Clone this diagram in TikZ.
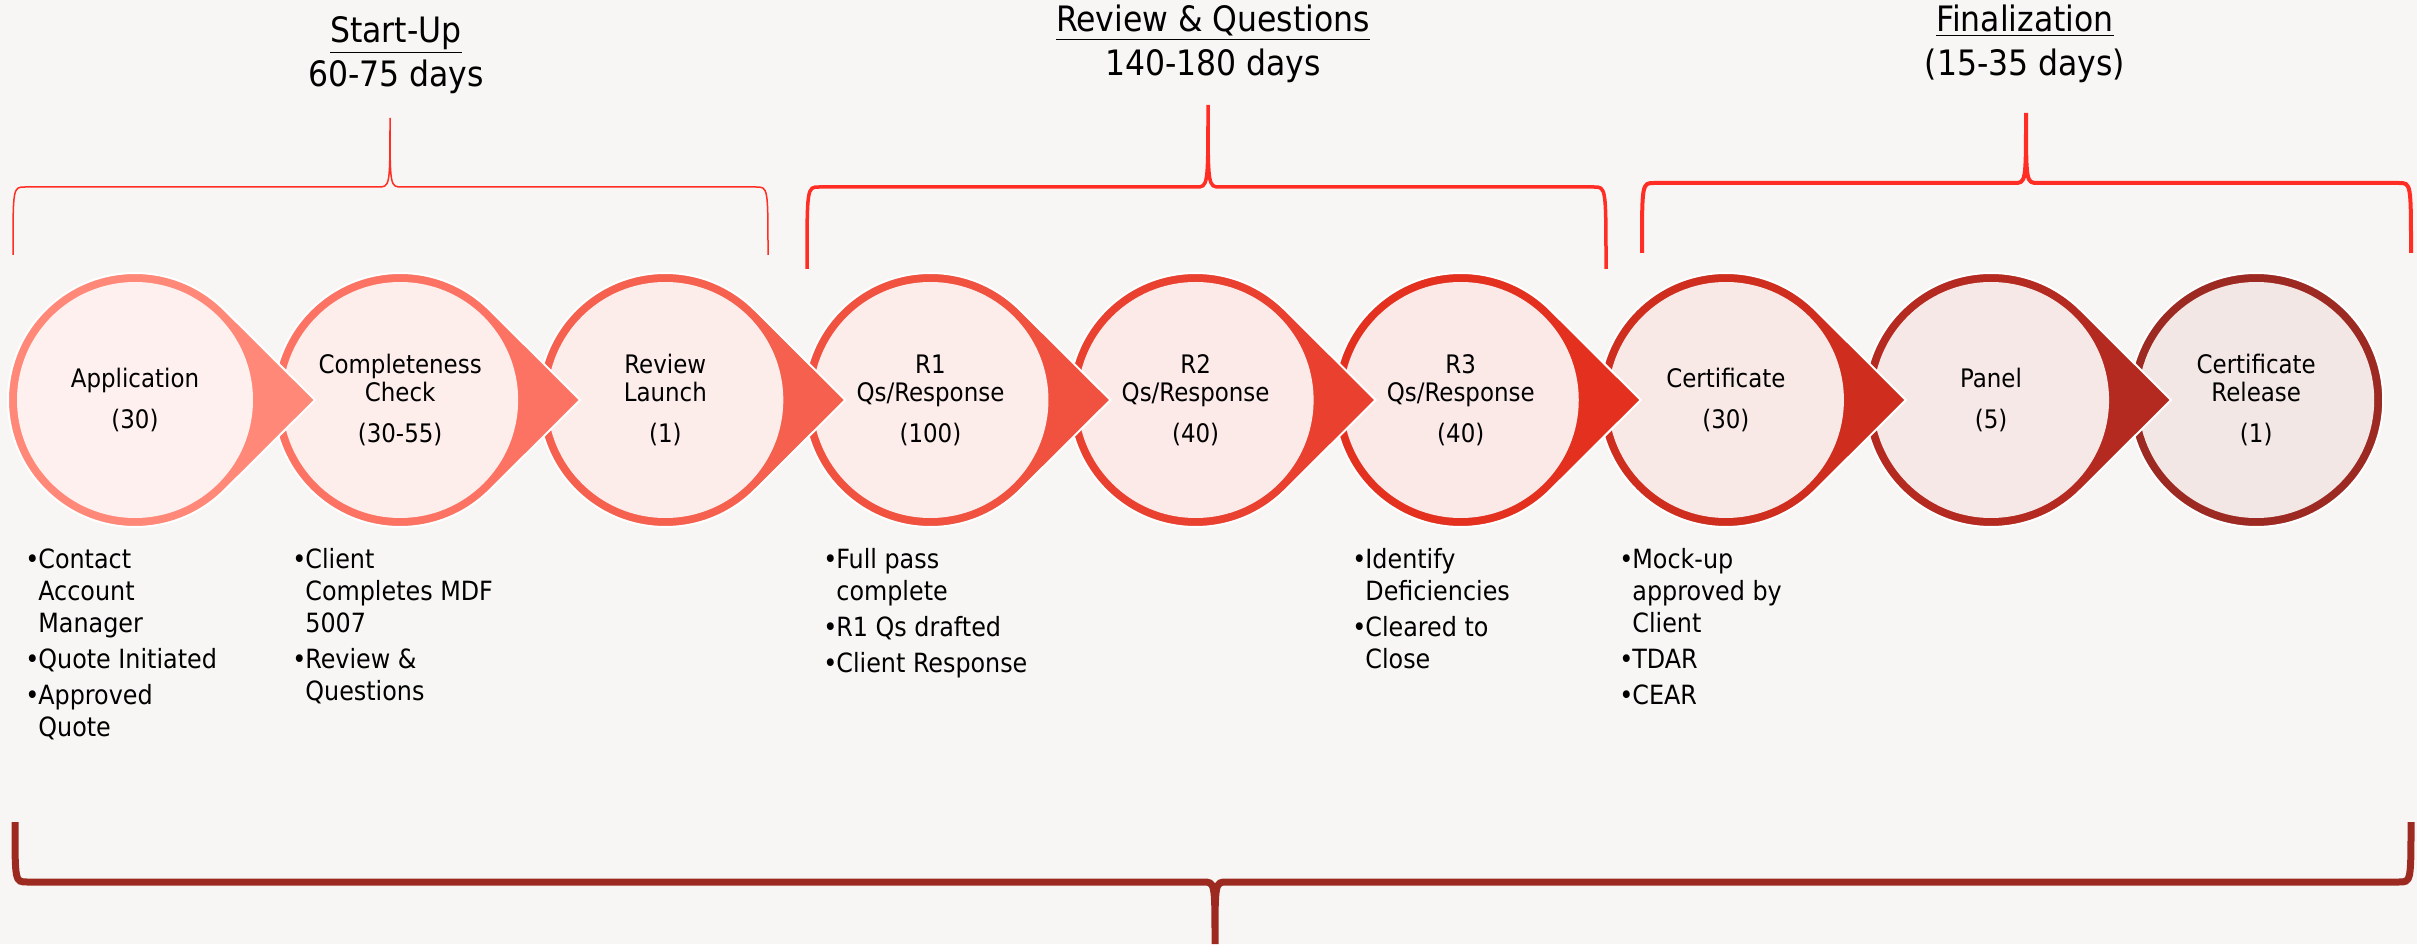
\documentclass[tikz,border=0pt]{standalone}
\usepackage{fontspec}
\setmainfont{DejaVu Sans Condensed}
\usepackage{xcolor}
\usepackage{tikz}
\usetikzlibrary{calc}

\definecolor{bg}{RGB}{247,246,244}
\definecolor{braceRed}{RGB}{255,45,35}
\definecolor{braceDark}{RGB}{157,42,33}
\definecolor{ring1}{RGB}{255,136,120}
\definecolor{ring2}{RGB}{252,115,99}
\definecolor{ring3}{RGB}{246,96,78}
\definecolor{ring4}{RGB}{241,81,63}
\definecolor{ring5}{RGB}{234,64,47}
\definecolor{ring6}{RGB}{228,48,30}
\definecolor{ring7}{RGB}{207,46,31}
\definecolor{ring8}{RGB}{180,42,32}
\definecolor{ring9}{RGB}{157,42,34}
\definecolor{inner1}{RGB}{253,240,238}
\definecolor{inner2}{RGB}{253,238,236}
\definecolor{inner3}{RGB}{252,237,235}
\definecolor{inner4}{RGB}{252,236,234}
\definecolor{inner5}{RGB}{251,234,232}
\definecolor{inner6}{RGB}{250,233,231}
\definecolor{inner7}{RGB}{248,233,231}
\definecolor{inner8}{RGB}{246,232,230}
\definecolor{inner9}{RGB}{243,231,229}

\newcommand{\bitem}[1]{\makebox[6.5pt][l]{•}#1}
\newcommand{\bcont}[1]{\hspace*{6.5pt}#1}
% style, left x, right x, tip x, end y, line y, tip y
\newcommand{\phasebrace}[7]{%
  \draw[#1] (#2,#5) .. controls (#2,#6) and (#2,#6) .. (#2+12,#6) -- (#4-12,#6)
    .. controls (#4,#6) and (#4,#6) .. (#4,#7)
    .. controls (#4,#6) and (#4,#6) .. (#4+12,#6) -- (#3-12,#6)
    .. controls (#3,#6) and (#3,#6) .. (#3,#5);}

\begin{document}
\begin{tikzpicture}[x=0.5pt, y=0.5pt,
    stagetext/.style={align=center, inner sep=0pt, font=\fontsize{12.75}{14}\selectfont},
    notes/.style={anchor=north west, align=left, inner sep=0pt, font=\fontsize{13.25}{16}\selectfont},
    phase/.style={align=center, inner sep=0pt, font=\fontsize{17.5}{22}\selectfont}]
    \fill[bg] (0,0) rectangle (2417,944);
    \useasboundingbox (0,0) rectangle (2417,944);

    \node[phase] (startup) at (396,889) {\underline{Start-Up}\\60-75 days};
    \node[phase] (review) at (1213,900) {\underline{Review \& Questions}\\140-180 days};
    \node[phase] (final) at (2025,900) {\underline{Finalization}\\(15-35 days)};

    \phasebrace{braceRed, line width=0.75pt}{13}{768}{390}{689}{757}{826}
    \phasebrace{braceRed, line width=1.75pt}{807}{1606}{1208}{675}{757}{839}
    \phasebrace{braceRed, line width=2pt}{1642}{2411}{2026}{691}{761}{831}
    \phasebrace{braceDark, line width=3.5pt}{15}{2411}{1215}{122}{62}{0}

    \foreach \i/\nm/\lbl/\num in {9/release/{Certificate\\Release}/(1), 8/panel/Panel/(5),
        7/cert/Certificate/(30), 6/rthree/{R3\\Qs/Response}/(40), 5/rtwo/{R2\\Qs/Response}/(40),
        4/rone/{R1\\Qs/Response}/(100), 3/launch/{Review\\Launch}/(1),
        2/check/{Completeness\\Check}/(30-55), 1/app/Application/(30)} {
        \pgfmathsetmacro{\cx}{135+265.15*(\i-1)}
        \ifnum\i<9
            \fill[ring\i, draw=white, line width=1pt] (\cx,544) ++(45:127)
                arc[start angle=45, end angle=315, radius=127] -- (\cx+180,544) -- cycle;
        \else
            \fill[ring\i, draw=white, line width=1pt] (\cx,544) circle (127);
        \fi
        \fill[inner\i] (\cx,544) circle (118);
        \node[stagetext] (\nm) at (\cx,544) {\lbl\\[6.5pt]\num};
    }

    \node[notes] (app-notes) at (25,396) {\bitem{Contact}\\\bcont{Account}\\\bcont{Manager}\\[2pt]
        \bitem{Quote Initiated}\\[2pt]\bitem{Approved}\\\bcont{Quote}};
    \node[notes] (check-notes) at (292,396) {\bitem{Client}\\\bcont{Completes MDF}\\\bcont{5007}\\[2pt]
        \bitem{Review \&}\\\bcont{Questions}};
    \node[notes] (rone-notes) at (823,396) {\bitem{Full pass}\\\bcont{complete}\\[2pt]
        \bitem{R1 Qs drafted}\\[2pt]\bitem{Client Response}};
    \node[notes] (rthree-notes) at (1352,396) {\bitem{Identify}\\\bcont{Deficiencies}\\[2pt]
        \bitem{Cleared to}\\\bcont{Close}};
    \node[notes] (cert-notes) at (1619,396) {\bitem{Mock-up}\\\bcont{approved by}\\\bcont{Client}\\[2pt]
        \bitem{TDAR}\\[2pt]\bitem{CEAR}};
\end{tikzpicture}
\end{document}
